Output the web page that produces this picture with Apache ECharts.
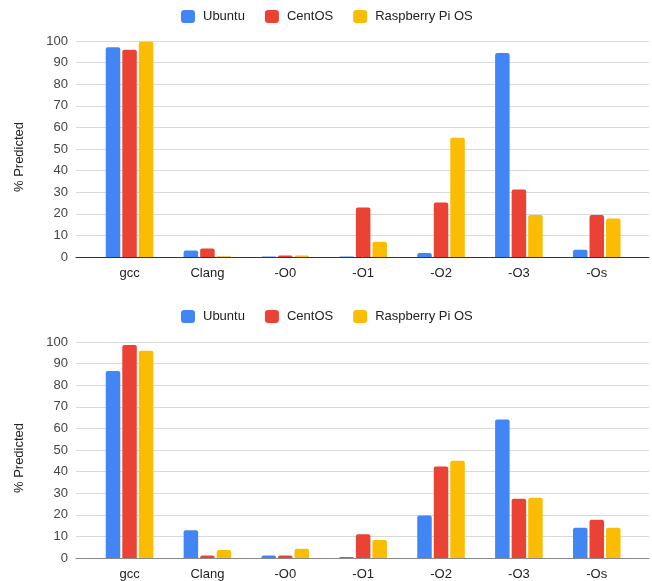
<!DOCTYPE html>
<html>
<head>
<meta charset="utf-8">
<script src="https://cdn.jsdelivr.net/npm/echarts@6/dist/echarts.min.js"></script>
<style>
html,body{margin:0;padding:0;background:#fff;}
#chart{width:652px;height:581px;}
</style>
</head>
<body>
<div id="chart"></div>
<script>
const categories = ['gcc', 'Clang', '-O0', '-O1', '-O2', '-O3', '-Os'];
const seriesNames = ['Ubuntu', 'CentOS', 'Raspberry Pi OS'];
const colors = ['#4285F4', '#EA4335', '#FBBC04'];
const yTicks = [0, 10, 20, 30, 40, 50, 60, 70, 80, 90, 100];

// Top chart
const topUbuntu = [97.1, 3.0, 0.2, 0.2, 1.8, 94.4, 3.4];
const topCentOS = [96.0, 3.9, 0.7, 22.9, 25.2, 31.3, 19.4];
const topRaspberry = [99.7, 0.3, 0.7, 7.1, 55.2, 19.4, 17.8];

// Bottom chart
const botUbuntu = [86.6, 12.9, 1.1, 0.5, 19.7, 64.1, 14.0];
const botCentOS = [98.6, 1.1, 1.1, 11.0, 42.4, 27.4, 17.7];
const botRaspberry = [96.0, 3.7, 4.3, 8.3, 45.0, 27.9, 14.0];

const FONT = 'Arial, "Liberation Sans", sans-serif';
const chart = echarts.init(document.getElementById('chart'), null, {renderer: 'canvas'});

const panels = [
  {top: 41, legendTop: 5, data: [topUbuntu, topCentOS, topRaspberry], axisColor: '#333'},
  {top: 342, legendTop: 305, data: [botUbuntu, botCentOS, botRaspberry], axisColor: '#888'}
];

const grid = [], xAxis = [], yAxis = [], series = [], legend = [];
panels.forEach((p, i) => {
  const bgIdx = grid.length;
  grid.push({left: 76, right: 3, top: p.top, height: 216});
  grid.push({left: 90.6, right: 16.3, top: p.top, height: 216});
  const barIdx = bgIdx + 1;
  xAxis.push({
    type: 'category', gridIndex: bgIdx, data: categories,
    axisLine: {show: true, lineStyle: {color: p.axisColor, width: 1}},
    axisTick: {show: false}, axisLabel: {show: false}
  });
  xAxis.push({
    type: 'category', gridIndex: barIdx, data: categories,
    axisLine: {show: false}, axisTick: {show: false},
    axisLabel: {color: '#222', fontSize: 13, fontFamily: FONT, margin: 10}
  });
  yAxis.push({
    type: 'value', gridIndex: bgIdx, min: yTicks[0], max: yTicks[yTicks.length - 1], interval: 10,
    name: '% Predicted', nameLocation: 'middle', nameGap: 50,
    nameTextStyle: {color: '#222', fontSize: 13, fontFamily: FONT, padding: [0, 16, 0, 0]},
    axisLine: {show: false}, axisTick: {show: false},
    axisLabel: {color: '#444', fontSize: 13, fontFamily: FONT, margin: 8},
    splitLine: {show: true, lineStyle: {color: '#d9d9d9', width: 1}}
  });
  yAxis.push({
    type: 'value', gridIndex: barIdx, min: 0, max: 100, interval: 10,
    axisLine: {show: false}, axisTick: {show: false}, axisLabel: {show: false},
    splitLine: {show: false}
  });
  legend.push({
    data: seriesNames, left: 176, top: p.legendTop,
    itemWidth: 14, itemHeight: 13, itemGap: 20, icon: 'roundRect',
    textStyle: {color: '#222', fontSize: 13, fontFamily: FONT, padding: [0, 0, 0, 3]}
  });
  seriesNames.forEach((name, k) => {
    series.push({
      name: name, type: 'bar', xAxisIndex: barIdx, yAxisIndex: barIdx,
      data: p.data[k], barWidth: 14.5, barGap: '14%',
      itemStyle: {color: colors[k], borderRadius: [2, 2, 0, 0]},
      z: 3
    });
  });
});

chart.setOption({
  animation: false,
  color: colors,
  textStyle: {fontFamily: FONT},
  legend: legend,
  grid: grid,
  xAxis: xAxis,
  yAxis: yAxis,
  series: series
});
</script>
</body>
</html>
